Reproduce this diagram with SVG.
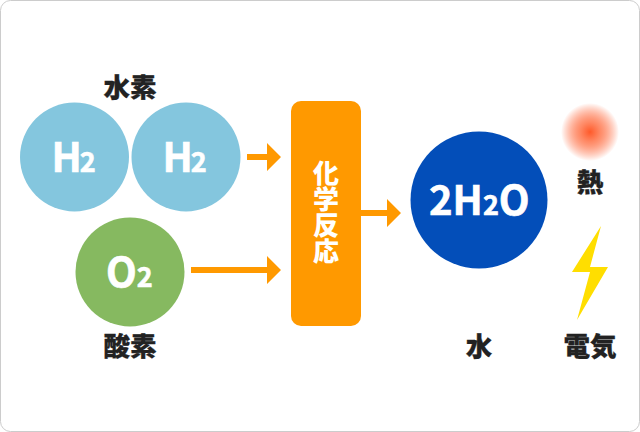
<svg xmlns="http://www.w3.org/2000/svg" width="640" height="432" viewBox="0 0 640 432">
<style>
.lbl{font-family:"Noto Sans CJK JP",sans-serif;font-weight:900;font-size:26.5px;fill:#222;stroke:#222;stroke-width:.3;text-anchor:middle}
.chem{font-family:"Noto Sans CJK JP",sans-serif;font-weight:700;font-size:40px;fill:#fff;stroke:#fff;stroke-width:.6}
.sub{font-size:27px}
.arr{fill:#ff9900}
.rx{font-family:"Noto Sans CJK JP",sans-serif;font-weight:900;font-size:26px;fill:#fff;writing-mode:vertical-rl;text-anchor:start}
</style>
<defs>
<radialGradient id="heat"><stop offset="0" stop-color="#ff5a2a"/><stop offset="0.35" stop-color="#ff8a66"/><stop offset="1" stop-color="#ff5a2a" stop-opacity="0"/></radialGradient>
</defs>
<rect x="0.5" y="0.5" width="639" height="431" rx="10" fill="#fff" stroke="#ccc"/>
<g id="connectors">
<path class="arr" d="M247 154H267V143L281 157L267 171V160H247Z"/>
<path class="arr" d="M191 267H267V256L281 270L267 284V273H191Z"/>
<path class="arr" d="M361 210H387V199L401 213L387 227V216H361Z"/>
</g>
<g id="h2-left"><circle cx="74.500" cy="157" r="54.5" fill="#84c6de"/><text class="chem" x="51.500" y="172" letter-spacing="-2">H<tspan class="sub" letter-spacing="0">2</tspan></text></g>
<g id="h2-right"><circle cx="186" cy="157" r="54.5" fill="#84c6de"/><text class="chem" x="162.500" y="172" letter-spacing="-2">H<tspan class="sub" letter-spacing="0">2</tspan></text></g>
<g id="o2"><circle cx="130" cy="272" r="54.5" fill="#86b960"/><text class="chem" x="106" y="287">O<tspan class="sub">2</tspan></text></g>
<g id="reaction"><rect x="291" y="101" width="70" height="225" rx="10" fill="#ff9900"/>
<text class="rx" x="326" y="160">化学反応</text></g>
<g id="water"><circle cx="479" cy="200" r="68.5" fill="#034eb9"/><text class="chem" x="429" y="215">2H<tspan class="sub">2</tspan>O</text></g>
<g id="heat-node"><circle cx="590" cy="132" r="29" fill="url(#heat)"/><text class="lbl" x="590" y="192">熱</text></g>
<g id="electricity"><polygon points="601,226 572,272 590,272 577,320 608,267 590,267" fill="#ffde00"/><text class="lbl" x="590" y="356">電気</text></g>
<g id="label-h"><text class="lbl" x="130" y="97">水素</text></g>
<g id="label-o"><text class="lbl" x="130" y="356">酸素</text></g>
<g id="label-w"><text class="lbl" x="479" y="356">水</text></g>
</svg>
